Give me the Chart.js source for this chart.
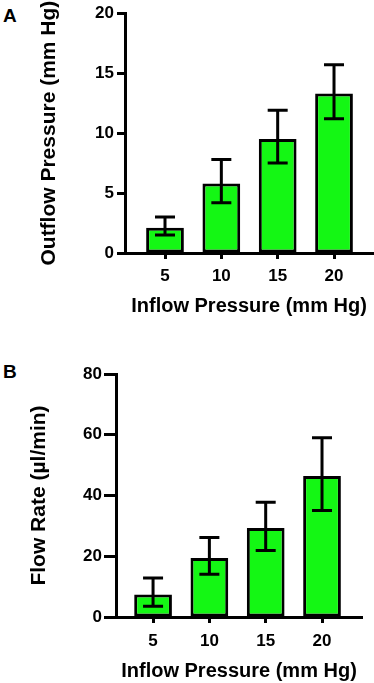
<!DOCTYPE html>
<html>
<head>
<meta charset="utf-8">
<script src="https://cdn.jsdelivr.net/npm/chart.js@4/dist/chart.umd.min.js"></script>
<style>
  html, body { margin: 0; padding: 0; background: #fff; }
  body { width: 374px; height: 683px; position: relative; overflow: hidden; font-family: "Liberation Sans", Arial, sans-serif; }
  .panel { position: absolute; left: 0; }
  .letter { position: absolute; font-weight: bold; font-size: 19px; color: #000; line-height: 1; }
</style>
</head>
<body>
<div class="letter" style="left:3px; top:6px;">A</div>
<div class="letter" style="left:3px; top:362px;">B</div>
<div class="panel" style="top:0; width:374px; height:330px;"><canvas id="cA" width="374" height="330"></canvas></div>
<div class="panel" style="top:340px; width:374px; height:343px;"><canvas id="cB" width="374" height="343"></canvas></div>
<script>
// ---- data ----
const inflowPressures = [5, 10, 15, 20];
const outflowMean = [2.1, 5.8, 9.5, 13.3];
const outflowLow  = [1.5, 4.2, 7.5, 11.2];
const outflowHigh = [3.0, 7.8, 11.9, 15.7];
const flowMean = [7.4, 19.4, 29.3, 46.4];
const flowLow  = [3.5, 14.1, 21.9, 35.1];
const flowHigh = [12.8, 26.2, 37.8, 59.0];
const outflowTicks = [0, 5, 10, 15, 20];
const flowTicks = [0, 20, 40, 60, 80];
const xTitle = 'Inflow Pressure (mm Hg)';
const yTitleA = 'Outflow Pressure (mm Hg)';
const yTitleB = 'Flow Rate (µl/min)';

Chart.defaults.color = '#000';
Chart.defaults.font.family = '"Liberation Sans", Arial, sans-serif';
Chart.defaults.font.weight = 'bold';

const errorBarPlugin = {
  id: 'errorBars',
  afterDatasetsDraw(chart, args, opts) {
    const ctx = chart.ctx;
    const meta = chart.getDatasetMeta(0);
    const ys = chart.scales.y;
    ctx.save();
    ctx.strokeStyle = '#000';
    ctx.lineWidth = 3;
    meta.data.forEach((bar, i) => {
      const x = bar.x;
      const yHi = ys.getPixelForValue(opts.high[i]);
      const yLo = ys.getPixelForValue(opts.low[i]);
      const half = 10;
      ctx.beginPath();
      ctx.moveTo(x, yHi); ctx.lineTo(x, yLo);
      ctx.moveTo(x - half, yHi); ctx.lineTo(x + half, yHi);
      ctx.moveTo(x - half, yLo); ctx.lineTo(x + half, yLo);
      ctx.stroke();
    });
    ctx.restore();
  }
};

function makeChart(id, cfg) {
  return new Chart(document.getElementById(id), {
    type: 'bar',
    data: {
      datasets: [{
        data: inflowPressures.map((x, i) => ({ x: x, y: cfg.mean[i] })),
        backgroundColor: '#14F714',
        borderColor: '#000',
        borderWidth: 3,
        borderSkipped: false,
        categoryPercentage: 1,
        barPercentage: 0.67
      }]
    },
    options: {
      responsive: false,
      animation: false,
      devicePixelRatio: 1,
      layout: { padding: { top: cfg.padTop, right: cfg.padRight, left: 0, bottom: 0 } },
      plugins: {
        legend: { display: false },
        tooltip: { enabled: false },
        errorBars: { low: cfg.low, high: cfg.high }
      },
      scales: {
        x: {
          type: 'linear',
          offset: false,
          min: cfg.xMin, max: cfg.xMax,
          afterBuildTicks: s => { s.ticks = inflowPressures.map(v => ({ value: v })); },
          afterFit: s => { s.height = cfg.xHeight; },
          ticks: { font: { size: 17, weight: 'bold' }, padding: cfg.xTickPad, color: '#000' },
          grid: { offset: false, drawOnChartArea: false, tickLength: 6, tickWidth: 3, tickColor: '#000', color: '#000' },
          border: { display: true, color: '#000', width: 3 },
          title: { display: true, text: xTitle, font: { size: 20, weight: 'bold' }, color: '#000', padding: { top: 0, bottom: cfg.xTitlePad } }
        },
        y: {
          min: cfg.yTicks[0], max: cfg.yTicks[cfg.yTicks.length - 1],
          afterBuildTicks: s => { s.ticks = cfg.yTicks.map(v => ({ value: v })); },
          afterFit: s => { s.width = cfg.yWidth; },
          ticks: { font: { size: 17, weight: 'bold' }, padding: cfg.yTickPad, color: '#000' },
          grid: { drawOnChartArea: false, tickLength: cfg.yTickLen, tickWidth: 3, tickColor: '#000', color: '#000' },
          border: { display: true, color: '#000', width: 3 },
          title: { display: true, text: cfg.yTitle, font: { size: 21, weight: 'bold' }, color: '#000', padding: { top: cfg.yTitlePad, bottom: 0 } }
        }
      }
    },
    plugins: [errorBarPlugin]
  });
}

makeChart('cA', {
  mean: outflowMean, low: outflowLow, high: outflowHigh, yTicks: outflowTicks, yTitle: yTitleA,
  padTop: 10, padRight: 1, xMin: 1.45, xMax: 23.46, xHeight: 77, yWidth: 125,
  xTickPad: 7, xTitlePad: 12, yTickPad: 3, yTickLen: 8, yTitlePad: 37
});
makeChart('cB', {
  mean: flowMean, low: flowLow, high: flowHigh, yTicks: flowTicks, yTitle: yTitleB,
  padTop: 34, padRight: 12, xMin: 1.71, xMax: 23.55, xHeight: 66, yWidth: 116,
  xTickPad: 8, xTitlePad: 0, yTickPad: 2, yTickLen: 12, yTitlePad: 27
});
</script>
</body>
</html>
